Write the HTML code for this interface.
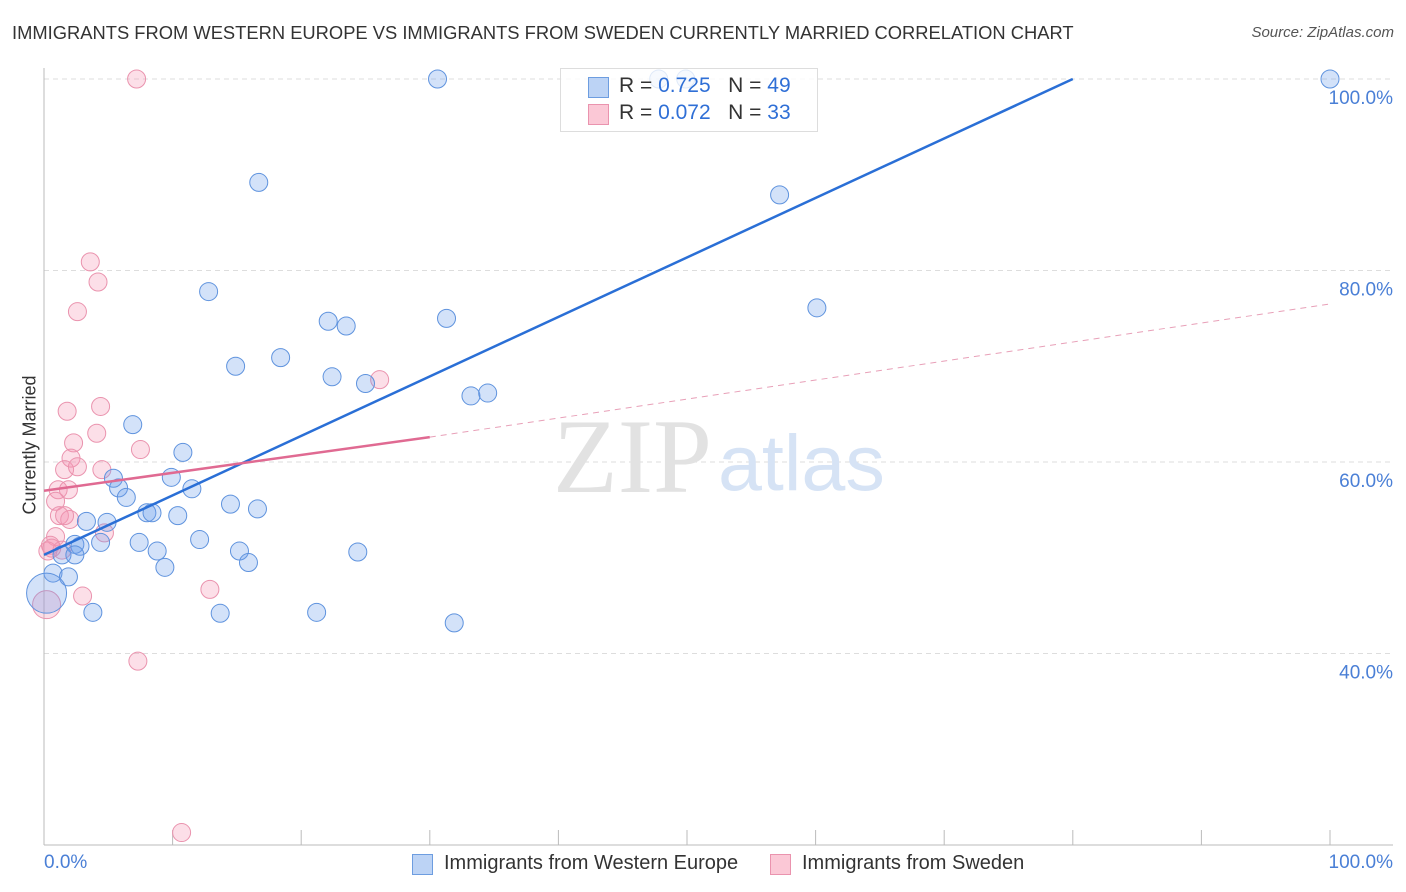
<!DOCTYPE html>
<html><head><meta charset="utf-8">
<style>
body{margin:0;background:#fff;font-family:"Liberation Sans",sans-serif;}
#c{position:relative;width:1406px;height:892px;overflow:hidden;}
.t{position:absolute;white-space:nowrap;}
</style></head>
<body>
<div id="c">
<div class="t" style="left:12px;top:22px;font-size:18.35px;color:#333;">IMMIGRANTS FROM WESTERN EUROPE VS IMMIGRANTS FROM SWEDEN CURRENTLY MARRIED CORRELATION CHART</div>
<div class="t" style="right:12px;top:24px;font-size:15px;color:#555;font-style:italic;">Source: ZipAtlas.com</div>
<svg id="s" width="1406" height="892" style="position:absolute;left:0;top:0"></svg>
</div>
<script>
const blueX=[30.6,47.8,49.9,100,16.7,57.2,12.8,60.1,22.1,23.5,31.3,14.9,18.4,22.4,25.0,33.2,34.5,6.9,10.8,5.4,9.9,5.8,6.4,11.5,14.5,16.6,8.0,8.4,10.4,3.3,4.9,7.4,12.1,2.4,2.8,4.4,1.4,2.4,8.8,15.2,24.4,15.9,9.4,0.7,1.9,0.2,3.8,13.7,21.2,31.9];
const blueY=[100,100,100,100,89.2,87.9,77.8,76.1,74.7,74.2,75.0,70.0,70.9,68.9,68.2,66.9,67.2,63.9,61.0,58.3,58.4,57.3,56.3,57.2,55.6,55.1,54.7,54.7,54.4,53.8,53.7,51.6,51.9,51.4,51.2,51.6,50.3,50.3,50.7,50.7,50.6,49.5,49.0,48.4,48.0,46.3,44.3,44.2,44.3,43.2];
const pinkX=[7.2,3.6,4.2,2.6,26.1,1.8,4.4,4.1,2.3,7.5,2.1,1.6,2.6,4.5,1.1,1.9,0.9,1.2,2.0,4.7,0.9,0.5,0.3,1.4,0.2,3.0,12.9,7.3,10.7,0.6,1.6];
const pinkY=[100,80.9,78.8,75.7,68.6,65.3,65.8,63.0,62.0,61.3,60.4,59.2,59.5,59.2,57.1,57.1,55.9,54.4,54.0,52.6,52.2,51.3,50.7,50.8,45.1,46.0,46.7,39.2,21.3,51.0,54.4];
const yTicks=[100,80,60,40];
const yTickLabels=["100.0%","80.0%","60.0%","40.0%"];
const blueTrend=[[0,50.3],[80.0,100]];
const pinkTrendSolid=[[0,57.0],[30,62.6]];
const pinkTrendDash=[[30,62.6],[100,76.5]];

const X=v=>44+v*12.86, Y=v=>1036.5-v*9.575;
const s=document.getElementById('s');const NS='http://www.w3.org/2000/svg';
function mk(t,a,p){const e=document.createElementNS(NS,t);for(const k in a)e.setAttribute(k,a[k]);(p||s).appendChild(e);return e;}
yTicks.forEach((v,i)=>{
 const g=mk('line',{x1:44,x2:1393,y1:Y(v),y2:Y(v),stroke:'#ddd','stroke-dasharray':'5,4'});
 
 
 const t=mk('text',{x:1393,y:Y(v)+25,'text-anchor':'end','font-size':19,fill:'#4a7fd6','font-family':'Liberation Sans'});
 t.textContent=yTickLabels[i];
 
 
});
let a=mk('line',{x1:44,x2:44,y1:68,y2:845,stroke:'#bbb'});


a=mk('line',{x1:44,x2:1393,y1:845,y2:845,stroke:'#bbb'});


for(let k=1;k<=10;k++){const tk=mk('line',{x1:X(k*10),x2:X(k*10),y1:830,y2:845,stroke:'#bbb'});
 
 }
let w=mk('text',{x:553,y:492,'font-size':106,fill:'#e2e2e2','font-family':'Liberation Serif'});w.textContent='ZIP';


w=mk('text',{x:718,y:490,'font-size':79,fill:'#d6e3f5','font-family':'Liberation Sans'});w.textContent='atlas';


function pts(xs,ys,fill,stroke,name,big){xs.forEach((x,i)=>{const r=(x<0.5&&ys[i]<47)?big:9;
 const c=mk('circle',{cx:X(x),cy:Y(ys[i]),r:r,fill:fill,stroke:stroke,'stroke-width':1});
 
 });}
pts(pinkX,pinkY,'rgba(244,150,180,0.3)','#ea93ae','point-sweden',14);
pts(blueX,blueY,'rgba(110,160,235,0.3)','#5f93de','point-western-europe',20);
function ln(p,col,w,dash,name){const l=mk('line',{x1:X(p[0][0]),y1:Y(p[0][1]),x2:X(p[1][0]),y2:Y(p[1][1]),stroke:col,'stroke-width':w});
 if(dash)l.setAttribute('stroke-dasharray',dash);
 
 }
ln(blueTrend,'#2a6fd6',2.5,null,'trend-western-europe');
ln(pinkTrendSolid,'#e06a92',2.5,null,'trend-sweden');
ln(pinkTrendDash,'#e8a0b8',1,'6,5','trend-sweden-extended');
</script>
<div class="t" style="left:-30px;top:444px;font-size:18px;color:#333;transform:rotate(-90deg);transform-origin:center;width:120px;text-align:center;">Currently Married</div>
<div class="t" style="left:44px;top:852px;font-size:19px;color:#4a7fd6;">0.0%</div>
<div class="t" style="right:13px;top:852px;font-size:19px;color:#4a7fd6;">100.0%</div>
<div style="position:absolute;left:560px;top:68px;width:256px;height:62px;border:1px solid #ddd;background:rgba(255,255,255,0.8);font-size:21px;color:#333;">
 <div style="position:absolute;left:27px;top:8px;width:19px;height:19px;background:#bcd3f5;border:1px solid #6d9de0;"></div>
 <div class="t" style="left:58px;top:5px;">R = <span style="color:#2f6fd6">0.725</span>&nbsp;&nbsp;&nbsp;N = <span style="color:#2f6fd6">49</span></div>
 <div style="position:absolute;left:27px;top:35px;width:19px;height:19px;background:#fbc8d6;border:1px solid #ea93ae;"></div>
 <div class="t" style="left:58px;top:32px;">R = <span style="color:#2f6fd6">0.072</span>&nbsp;&nbsp;&nbsp;N = <span style="color:#2f6fd6">33</span></div>
</div>
<div style="position:absolute;left:412px;top:852px;font-size:20px;color:#333;">
 <div style="position:absolute;left:0;top:2px;width:19px;height:19px;background:#bcd3f5;border:1px solid #6d9de0;"></div>
 <div class="t" style="left:32px;top:0;">Immigrants from Western Europe</div>
 <div style="position:absolute;left:358px;top:2px;width:19px;height:19px;background:#fbc8d6;border:1px solid #ea93ae;"></div>
 <div class="t" style="left:390px;top:0;">Immigrants from Sweden</div>
</div>
</body></html>
